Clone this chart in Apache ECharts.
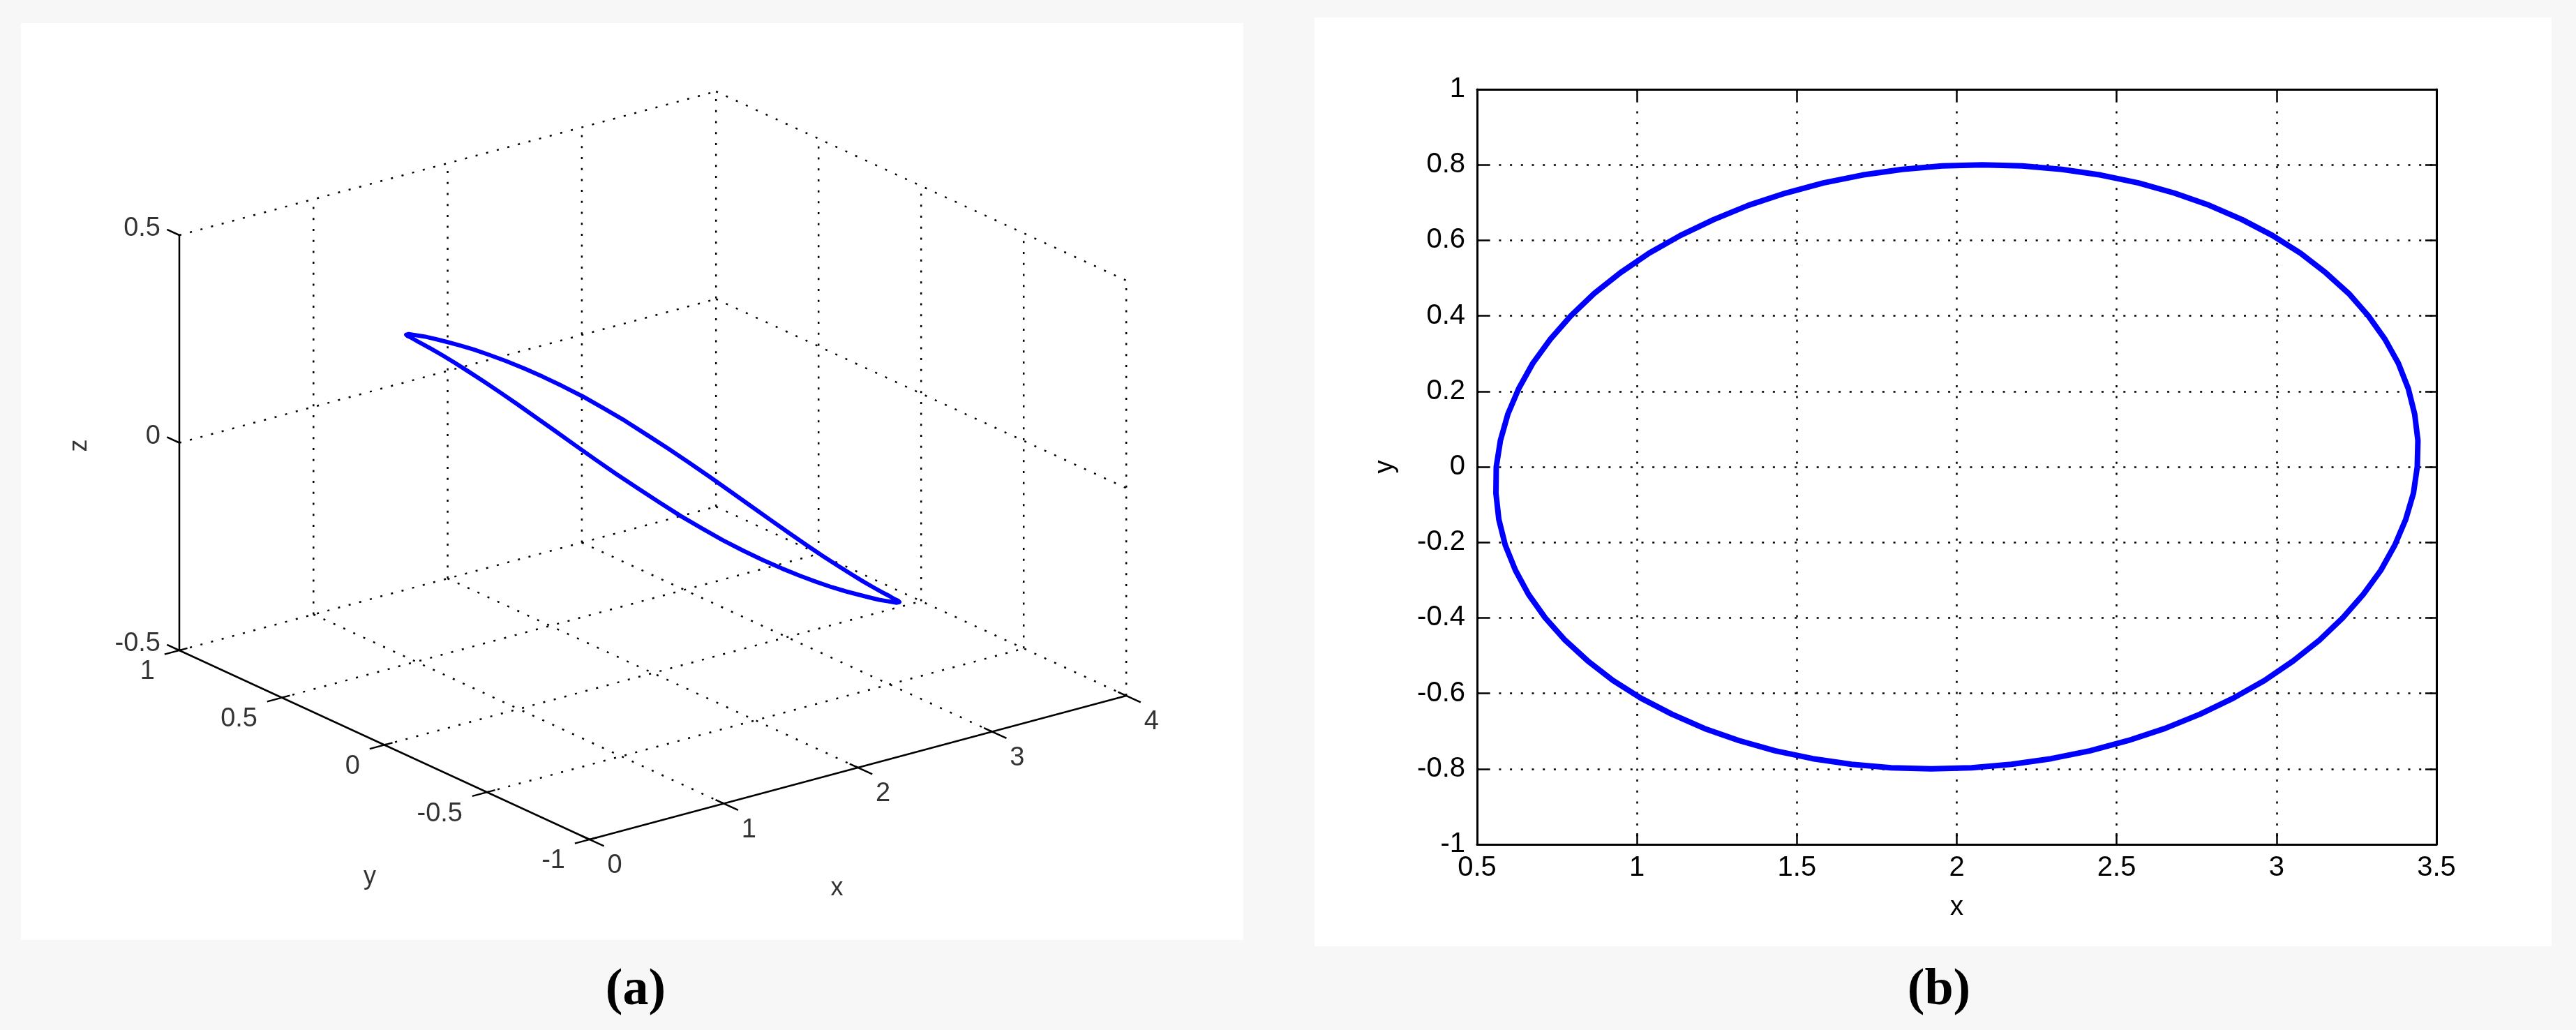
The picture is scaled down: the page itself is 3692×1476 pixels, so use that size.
<!DOCTYPE html>
<html>
<head>
<meta charset="utf-8">
<script src="https://cdn.jsdelivr.net/npm/echarts@6/dist/echarts.min.js"></script>
<style>
html,body{margin:0;padding:0;background:#f7f7f7;}
#chart{width:3692px;height:1476px;}
</style>
</head>
<body>
<div id="chart"></div>
<script>
// ---------------- DATA ----------------
// Closed orbit sampled around the loop (x, y shared by both panels; z for the 3-D view)
const orbitX = [3.440,3.442,3.432,3.412,3.381,3.339,3.287,3.226,3.154,3.075,2.987,2.892,2.789,2.681,2.568,2.450,2.329,2.205,2.080,1.954,1.829,1.705,1.583,1.464,1.349,1.240,1.136,1.038,0.948,0.866,0.793,0.729,0.674,0.630,0.596,0.573,0.560,0.559,0.568,0.588,0.620,0.661,0.713,0.775,0.846,0.925,1.013,1.109,1.211,1.319,1.432,1.550,1.671,1.795,1.920,2.046,2.171,2.295,2.417,2.536,2.651,2.761,2.864,2.962,3.052,3.134,3.207,3.271,3.326,3.370,3.404,3.428];
const orbitY = [0,0.070,0.139,0.207,0.274,0.338,0.400,0.459,0.514,0.566,0.613,0.655,0.693,0.725,0.752,0.773,0.788,0.797,0.800,0.797,0.788,0.773,0.752,0.725,0.693,0.655,0.613,0.566,0.514,0.459,0.400,0.338,0.274,0.207,0.139,0.070,0,-0.070,-0.139,-0.207,-0.274,-0.338,-0.400,-0.459,-0.514,-0.566,-0.613,-0.655,-0.693,-0.725,-0.752,-0.773,-0.788,-0.797,-0.800,-0.797,-0.788,-0.773,-0.752,-0.725,-0.693,-0.655,-0.613,-0.566,-0.514,-0.459,-0.400,-0.338,-0.274,-0.207,-0.139,-0.070];
const orbitZ = [-0.428,-0.434,-0.436,-0.435,-0.430,-0.421,-0.408,-0.391,-0.369,-0.344,-0.314,-0.282,-0.247,-0.210,-0.171,-0.131,-0.091,-0.051,-0.012,0.026,0.062,0.097,0.130,0.161,0.190,0.217,0.243,0.266,0.289,0.310,0.330,0.348,0.365,0.381,0.394,0.405,0.414,0.420,0.422,0.421,0.416,0.407,0.394,0.377,0.355,0.330,0.300,0.268,0.233,0.196,0.157,0.117,0.077,0.037,-0.002,-0.040,-0.076,-0.111,-0.144,-0.175,-0.204,-0.231,-0.257,-0.280,-0.303,-0.324,-0.344,-0.362,-0.379,-0.395,-0.408,-0.419];

// 3-D panel (a) axes
const xTicks3 = [0,1,2,3,4];
const xTickLabels3 = ['0','1','2','3','4'];
const yTicks3 = [1,0.5,0,-0.5,-1];
const yTickLabels3 = ['1','0.5','0','-0.5','-1'];
const zTicks3 = [-0.5,0,0.5];
const zTickLabels3 = ['-0.5','0','0.5'];

// 2-D panel (b) axes
const xRange2 = [0.5,3.5], xStep2 = 0.5;
const yRange2 = [-1,1], yStep2 = 0.2;

const captions = ['a','b'];

// ---------------- STYLE / LAYOUT ----------------
const FONT = "'Liberation Sans', Arial, sans-serif";
const BLUE = '#0000ff';
const DOT = [3, 12.7];
// oblique view used for panel (a): screen offsets per unit of x, y, z
const VIEW = {ux:192.3, uy:-294, vx:51.5, vy:135.5, vz:595};
function proj(x,y,z){ return [VIEW.ux*x + VIEW.uy*y, VIEW.vx*x + VIEW.vy*y + VIEW.vz*z]; }

const X0 = xTicks3[0], X1 = xTicks3[xTicks3.length-1];
const Y0 = Math.min(...yTicks3), Y1 = Math.max(...yTicks3);
const Z0 = zTicks3[0], Z1 = zTicks3[zTicks3.length-1];

const series = [];
function seg(a, b, opts){
  series.push(Object.assign({
    type:'line', xAxisIndex:2, yAxisIndex:2, silent:true, symbol:'none',
    data:[proj(...a), proj(...b)],
    lineStyle:{color:'#000', width:2.5, type:DOT, cap:'butt'}, z:1
  }, opts||{}));
}
// back wall (y = Y1)
xTicks3.forEach(x => { if (x !== X0) seg([x,Y1,Z0],[x,Y1,Z1]); });
zTicks3.forEach(z => seg([X0,Y1,z],[X1,Y1,z]));
// side wall (x = X1)
yTicks3.forEach(y => { if (y !== Y1) seg([X1,y,Z0],[X1,y,Z1]); });
zTicks3.forEach(z => seg([X1,Y1,z],[X1,Y0,z]));
// floor (z = Z0)
yTicks3.forEach(y => { if (y !== Y0 && y !== Y1) seg([X0,y,Z0],[X1,y,Z0]); });
xTicks3.forEach(x => { if (x !== X0 && x !== X1) seg([x,Y1,Z0],[x,Y0,Z0]); });

const SOLID = {lineStyle:{color:'#000', width:2.5, type:'solid'}, z:3};
// axis lines
seg([X0,Y1,Z0],[X0,Y1,Z1], SOLID);
seg([X0,Y1,Z0],[X0,Y0,Z0], SOLID);
seg([X0,Y0,Z0],[X1,Y0,Z0], SOLID);
// tick marks
xTicks3.forEach(x => seg([x,Y0+0.04,Z0],[x,Y0-0.07,Z0], SOLID));
yTicks3.forEach(y => seg([X0+0.06,y,Z0],[X0-0.11,y,Z0], SOLID));
zTicks3.forEach(z => seg([X0,Y1,z],[X0,Y1+0.06,z], SOLID));

// orbit in 3-D
const orbit3 = orbitX.map((x,i) => proj(x, orbitY[i], orbitZ[i]));
orbit3.push(orbit3[0]);
series.push({
  type:'line', xAxisIndex:2, yAxisIndex:2, silent:true, symbol:'none', smooth:false,
  data:orbit3, lineStyle:{color:BLUE, width:6, join:'round'}, z:5
});

// tick labels in 3-D
const lbl = {show:true, color:'#000', fontSize:38, fontFamily:FONT, formatter:p => p.data[2]};
series.push({
  type:'scatter', xAxisIndex:2, yAxisIndex:2, silent:true, symbolSize:0, z:6,
  data: zTicks3.map((z,i) => [...proj(X0,Y1,z), zTickLabels3[i]]),
  label:Object.assign({}, lbl, {position:'left', distance:27, offset:[0,-9]})
});
series.push({
  type:'scatter', xAxisIndex:2, yAxisIndex:2, silent:true, symbolSize:0, z:6,
  data: yTicks3.map((y,i) => [...proj(X0,y,Z0), yTickLabels3[i]]),
  label:Object.assign({}, lbl, {position:'left', distance:35, offset:[0,31]})
});
series.push({
  type:'scatter', xAxisIndex:2, yAxisIndex:2, silent:true, symbolSize:0, z:6,
  data: xTicks3.map((x,i) => [...proj(x,Y0,Z0), xTickLabels3[i]]),
  label:Object.assign({}, lbl, {position:'inside', offset:[36,38]})
});
// axis names in 3-D
series.push({
  type:'scatter', xAxisIndex:2, yAxisIndex:2, silent:true, symbolSize:0, z:6,
  data:[
    {value:[...proj(X0,Y1,(Z0+Z1)/2),'z'], label:{offset:[-4,-143], rotate:90}},
    {value:[...proj(X0,(Y0+Y1)/2,Z0),'y'], label:{offset:[-21,190]}},
    {value:[...proj((X0+X1)/2,Y0,Z0),'x'], label:{offset:[-30,173]}}
  ],
  label:Object.assign({}, lbl, {position:'inside', fontSize:36, formatter:p => p.value[2]})
});

// orbit in 2-D (panel b)
const orbit2 = orbitX.map((x,i) => [x, orbitY[i]]);
orbit2.push(orbit2[0]);
series.push({
  type:'line', xAxisIndex:0, yAxisIndex:0, silent:true, symbol:'none', smooth:false,
  data:orbit2, lineStyle:{color:BLUE, width:8, join:'round'}, z:5
});

const tickStyle = {show:true, inside:true, length:16, lineStyle:{color:'#000', width:2.5}};
const axisLineStyle = {show:true, onZero:false, lineStyle:{color:'#000', width:3}};
const splitDots = {show:true, lineStyle:{color:'#000', width:2.5, type:DOT, cap:'butt'}};
const labelStyle = {color:'#000', fontSize:40, fontFamily:FONT};
const capRich = {
  p:{fontFamily:"'Liberation Serif', serif", fontSize:74, color:'#000'},
  b:{fontFamily:"'Liberation Serif', serif", fontSize:74, fontWeight:'bold', color:'#000'}
};

const option = {
  backgroundColor:'#f7f7f7',
  animation:false,
  graphic:[
    {type:'rect', z:-10, silent:true, shape:{x:30, y:33, width:1752, height:1314}, style:{fill:'#fff'}},
    {type:'rect', z:-10, silent:true, shape:{x:1884, y:25, width:1773, height:1331}, style:{fill:'#fff'}}
  ],
  title:[
    {text:'{p|(}{b|' + captions[0] + '}{p|)}', left:906, top:1378, textAlign:'center', textStyle:{rich:capRich}},
    {text:'{p|(}{b|' + captions[1] + '}{p|)}', left:2774, top:1378, textAlign:'center', textStyle:{rich:capRich}}
  ],
  grid:[
    {left:2117, top:128, width:1375, height:1082, show:false},
    {left:30, top:33, width:1752, height:1314, show:false}
  ],
  xAxis:[
    {type:'value', gridIndex:0, position:'bottom', min:xRange2[0], max:xRange2[1], interval:xStep2,
     axisLine:axisLineStyle, axisTick:tickStyle, splitLine:splitDots,
     axisLabel:Object.assign({margin:14}, labelStyle),
     name:'x', nameLocation:'middle', nameGap:72, nameTextStyle:{color:'#000', fontSize:38, fontFamily:FONT}},
    {type:'value', gridIndex:0, position:'top', min:xRange2[0], max:xRange2[1], interval:xStep2,
     axisLine:axisLineStyle, axisTick:tickStyle, splitLine:{show:false}, axisLabel:{show:false}},
    {type:'value', gridIndex:1, min:-521, max:1231, show:false}
  ],
  yAxis:[
    {type:'value', gridIndex:0, position:'left', min:yRange2[0], max:yRange2[1], interval:yStep2,
     axisLine:axisLineStyle, axisTick:tickStyle, splitLine:splitDots,
     axisLabel:Object.assign({margin:17}, labelStyle),
     name:'y', nameLocation:'middle', nameGap:112, nameTextStyle:{color:'#000', fontSize:38, fontFamily:FONT}},
    {type:'value', gridIndex:0, position:'right', min:yRange2[0], max:yRange2[1], interval:yStep2,
     axisLine:axisLineStyle, axisTick:tickStyle, splitLine:{show:false}, axisLabel:{show:false}},
    {type:'value', gridIndex:1, min:-577, max:737, show:false}
  ],
  series:series
};

const chart = echarts.init(document.getElementById('chart'), null, {renderer:'canvas'});
chart.setOption(option);
</script>
</body>
</html>
